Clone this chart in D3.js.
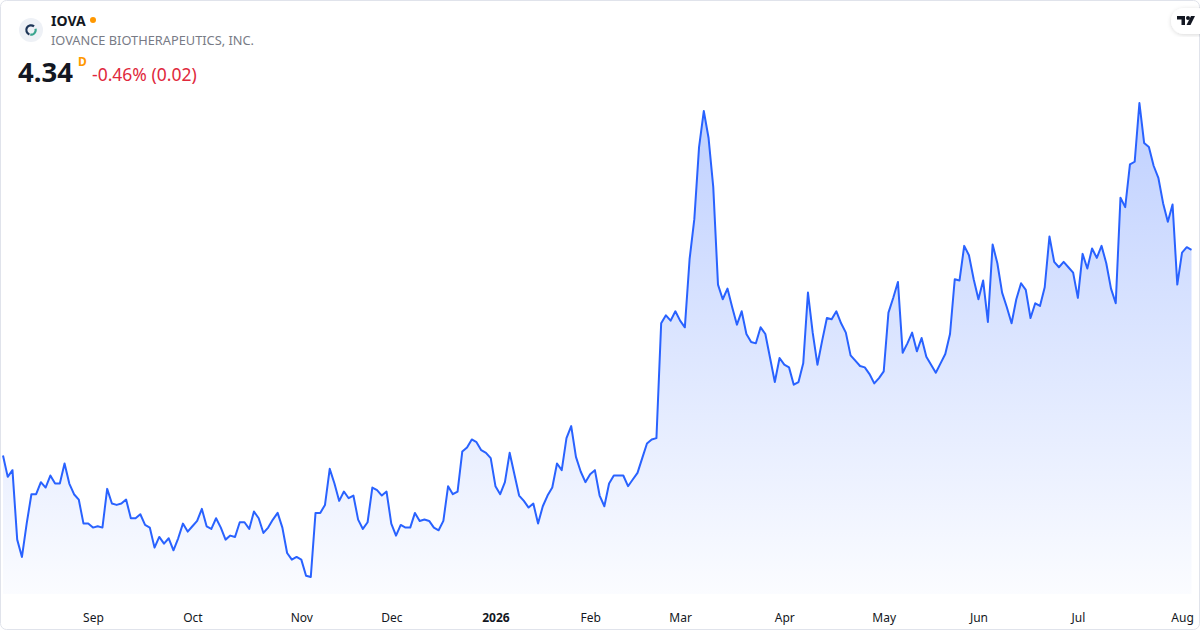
<!DOCTYPE html>
<html>
<head>
<meta charset="utf-8">
<script src="https://cdn.jsdelivr.net/npm/d3@7"></script>
<style>
    html, body { margin: 0; padding: 0; background: #fff; }
    #chart { width: 1200px; height: 630px; }
    text { font-family: "Noto Sans", "Open Sans", sans-serif; }
</style>
</head>
<body>
<div id="chart"></div>
<script>
// Daily closes, Aug 5 2025 .. Aug 4 2026 (one value per trading day)
const closes = [
    2.80, 2.64, 2.69, 2.17, 2.04, 2.29, 2.51, 2.51, 2.60, 2.56,
    2.65, 2.59, 2.59, 2.74, 2.59, 2.51, 2.47, 2.29, 2.29, 2.26,
    2.27, 2.26, 2.55, 2.44, 2.43, 2.44, 2.47, 2.33, 2.33, 2.36,
    2.28, 2.26, 2.11, 2.19, 2.14, 2.18, 2.09, 2.18, 2.29, 2.23,
    2.27, 2.31, 2.40,
    2.27, 2.25, 2.33, 2.26, 2.17, 2.20, 2.19, 2.30, 2.30, 2.25,
    2.38, 2.33, 2.22, 2.26, 2.32, 2.37, 2.26, 2.07, 2.02, 2.04,
    2.02, 1.90, 1.89, 2.37, 2.37, 2.43, 2.70, 2.59, 2.46, 2.53,
    2.48, 2.50, 2.32, 2.25, 2.30, 2.56, 2.54, 2.50, 2.53, 2.29,
    2.20, 2.28,
    2.26, 2.26, 2.37, 2.31, 2.32, 2.31, 2.26, 2.24, 2.31, 2.57,
    2.51, 2.53, 2.83, 2.86, 2.92, 2.90, 2.84, 2.82, 2.78, 2.57,
    2.51, 2.60, 2.82, 2.66, 2.50, 2.46, 2.41, 2.44, 2.29, 2.42,
    2.50, 2.56, 2.74, 2.69, 2.93, 3.02, 2.79, 2.68, 2.60, 2.66,
    2.69, 2.50, 2.42, 2.59, 2.65, 2.65, 2.65, 2.57, 2.62, 2.67,
    2.78, 2.89, 2.92, 2.93, 3.79, 3.85, 3.81, 3.88, 3.81, 3.76,
    4.27, 4.57, 5.11, 5.38, 5.18, 4.81, 4.08, 3.97, 4.05, 3.91,
    3.78, 3.88, 3.71, 3.65, 3.64, 3.76, 3.71, 3.53, 3.35, 3.53,
    3.48, 3.46, 3.33, 3.35, 3.49, 4.02,
    3.72, 3.48, 3.66, 3.83, 3.82, 3.88, 3.79, 3.72, 3.55, 3.51,
    3.47, 3.46, 3.41, 3.34, 3.38, 3.43, 3.87, 3.98, 4.10, 3.57,
    3.64, 3.72, 3.58, 3.68, 3.54, 3.48, 3.42, 3.49, 3.56, 3.71,
    4.12, 4.11, 4.37, 4.30, 4.12, 3.97, 4.11, 3.80, 4.38, 4.24,
    4.02, 3.91, 3.79, 3.97, 4.09, 4.04, 3.83, 3.94, 3.92, 4.06,
    4.44, 4.25, 4.21, 4.25, 4.21, 4.17, 3.98, 4.31, 4.20, 4.35,
    4.28, 4.37, 4.24, 4.05, 3.94, 4.73, 4.66, 4.98, 5.00, 5.44,
    5.14, 5.11, 4.97, 4.88, 4.69, 4.55, 4.68, 4.08, 4.32, 4.36,
    4.34
];

// Month labels and the trading-day index where each month starts
const tickLabels = ["Sep", "Oct", "Nov", "Dec", "2026", "Feb", "Mar", "Apr", "May", "Jun", "Jul", "Aug"];
const tickIndex = [19, 40, 63, 82, 104, 124, 143, 165, 186, 206, 227, 249];

const symbol = "IOVA";
const company = "IOVANCE BIOTHERAPEUTICS, INC.";
const lastPrice = "4.34";
const change = "-0.46% (0.02)";

const width = 1200;
const height = 630;

const svg = d3.select("#chart")
    .append("svg")
    .attr("width", width)
    .attr("height", height);

// Card border
svg.append("rect")
    .attr("x", 0.5).attr("y", 0.5)
    .attr("width", width - 1).attr("height", height - 1)
    .attr("rx", 6)
    .attr("fill", "#fff")
    .attr("stroke", "#e0e3eb");

// Scales
const x = d3.scaleLinear()
    .domain([0, closes.length - 1])
    .range([3, 1191.5]);

const y = d3.scaleLinear()
    .domain(d3.extent(closes))
    .range([577, 103]);

const plotBottom = 594;

// Area gradient
const defs = svg.append("defs");
const grad = defs.append("linearGradient")
    .attr("id", "areaFill")
    .attr("gradientUnits", "userSpaceOnUse")
    .attr("x1", 0).attr("y1", 103)
    .attr("x2", 0).attr("y2", plotBottom);
grad.append("stop").attr("offset", "0%").attr("stop-color", "#2962ff").attr("stop-opacity", 0.3);
grad.append("stop").attr("offset", "100%").attr("stop-color", "#2962ff").attr("stop-opacity", 0.02);

const area = d3.area()
    .x((d, i) => x(i))
    .y0(plotBottom)
    .y1(d => y(d));

const line = d3.line()
    .x((d, i) => x(i))
    .y(d => y(d));

svg.append("path")
    .datum(closes)
    .attr("d", area)
    .attr("fill", "url(#areaFill)");

svg.append("path")
    .datum(closes)
    .attr("d", line)
    .attr("fill", "none")
    .attr("stroke", "#2962ff")
    .attr("stroke-width", 2)
    .attr("stroke-linejoin", "round");

// X axis (month labels only)
const xAxis = d3.axisBottom(x)
    .tickValues(tickIndex)
    .tickSize(0)
    .tickPadding(0)
    .tickFormat((d, i) => tickLabels[i]);

const axisG = svg.append("g")
    .attr("transform", "translate(0,613)")
    .call(xAxis);
axisG.select(".domain").remove();
axisG.selectAll("text")
    .attr("fill", "#131722")
    .attr("font-size", 12)
    .attr("font-weight", (d, i) => tickLabels[i] === "2026" ? 700 : 400)
    .style("font-family", "'Noto Sans', sans-serif");

// Header: logo
const logo = svg.append("g").attr("transform", "translate(31,30)");
logo.append("circle").attr("r", 12).attr("fill", "#eef1f6");
logo.append("path")
    .attr("d", d3.arc()({innerRadius: 3.6, outerRadius: 5.8, startAngle: -2.8, endAngle: 0.7}))
    .attr("fill", "#1d3557");
logo.append("path")
    .attr("d", d3.arc()({innerRadius: 3.6, outerRadius: 5.8, startAngle: 1.3, endAngle: 3.3}))
    .attr("fill", "#3aa58f");

svg.append("text")
    .attr("x", 51).attr("y", 26)
    .attr("font-size", 14).attr("font-weight", 700)
    .attr("fill", "#131722")
    .text(symbol);
svg.append("circle")
    .attr("cx", 93).attr("cy", 20).attr("r", 3)
    .attr("fill", "#ff9800");

svg.append("text")
    .attr("x", 51).attr("y", 45)
    .attr("font-size", 12.8)
    .attr("fill", "#787b86")
    .text(company);

svg.append("text")
    .attr("x", 18).attr("y", 82)
    .attr("font-size", 27.5).attr("font-weight", 700)
    .attr("fill", "#131722")
    .text(lastPrice);
svg.append("text")
    .attr("x", 78).attr("y", 66)
    .attr("font-size", 12).attr("font-weight", 700)
    .attr("fill", "#ff9800")
    .text("D");
svg.append("text")
    .attr("x", 92).attr("y", 81)
    .attr("font-size", 17.5)
    .attr("fill", "#e0283c")
    .text(change);

// TradingView badge, top right
const badge = svg.append("g");
defs.append("filter").attr("id", "shadow")
    .append("feDropShadow")
    .attr("dx", 0).attr("dy", 1).attr("stdDeviation", 2)
    .attr("flood-color", "#000").attr("flood-opacity", 0.15);
badge.append("rect")
    .attr("x", 1171).attr("y", 8).attr("width", 40).attr("height", 26).attr("rx", 13)
    .attr("fill", "#fff")
    .attr("filter", "url(#shadow)");
badge.append("path")
    .attr("d", "M1177,16 h8 v9 h-3.5 v-5.5 h-4.5 z")
    .attr("fill", "#131722");
badge.append("circle").attr("cx", 1188).attr("cy", 18).attr("r", 2).attr("fill", "#131722");
badge.append("path")
    .attr("d", "M1191,16 h4 l-4.5,9 h-4 z")
    .attr("fill", "#131722");
</script>
</body>
</html>
